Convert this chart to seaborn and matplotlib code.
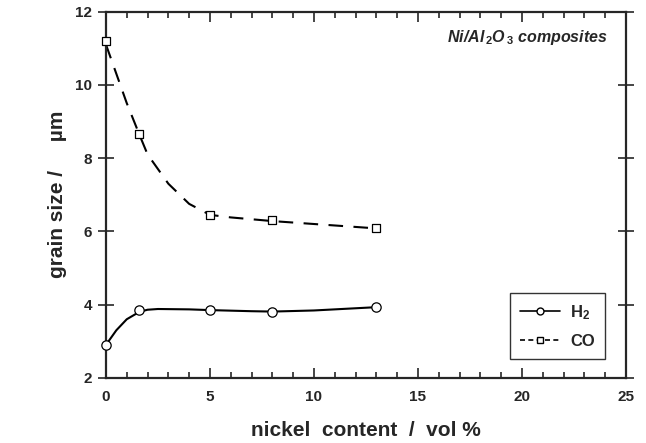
import numpy as np
import pandas as pd
import matplotlib
matplotlib.use("Agg")
import matplotlib.pyplot as plt
import seaborn as sns
from matplotlib.ticker import MultipleLocator
from matplotlib.lines import Line2D

# measured points
nickel = [0, 1.6, 5, 8, 13]
size_h2 = [2.9, 3.85, 3.85, 3.8, 3.93]
size_co = [11.2, 8.65, 6.45, 6.3, 6.1]

# fitted curves as drawn in the figure
curve_x_co = [0, 0.5, 1, 1.6, 2, 3, 4, 5, 6, 8, 10, 13]
curve_co = [11.1, 10.3, 9.5, 8.65, 8.1, 7.3, 6.75, 6.45, 6.38, 6.28, 6.2, 6.08]
curve_x_h2 = [0, 0.5, 1, 1.6, 2, 2.5, 4, 5, 7, 8, 10, 12, 13]
curve_h2 = [2.9, 3.3, 3.6, 3.8, 3.86, 3.88, 3.87, 3.85, 3.82, 3.81, 3.84, 3.9, 3.93]

sns.set_style("ticks")
plt.rcParams['font.family'] = ['Liberation Sans', 'DejaVu Sans']
plt.rcParams['mathtext.fontset'] = 'custom'
plt.rcParams['mathtext.it'] = 'Liberation Sans:italic:bold'
plt.rcParams['mathtext.rm'] = 'Liberation Sans:bold'

fig = plt.figure(figsize=(6.46, 4.43), dpi=100)
ax = fig.add_axes([0.164, 0.147, 0.805, 0.827])

pts = pd.DataFrame({"nickel": nickel, "H2": size_h2, "CO": size_co})
fit_co = pd.DataFrame({"x": curve_x_co, "y": curve_co})
fit_h2 = pd.DataFrame({"x": curve_x_h2, "y": curve_h2})

sns.lineplot(data=fit_co, x="x", y="y", ax=ax, color="black", lw=1.5,
             linestyle=(0, (7, 5)), sort=False)
sns.lineplot(data=fit_h2, x="x", y="y", ax=ax, color="black", lw=1.5, sort=False)
sns.scatterplot(data=pts, x="nickel", y="CO", ax=ax, marker="s", s=36,
                facecolor="white", edgecolor="black", linewidth=0.9, zorder=5, clip_on=False)
sns.scatterplot(data=pts, x="nickel", y="H2", ax=ax, marker="o", s=45,
                facecolor="white", edgecolor="black", linewidth=0.9, zorder=5, clip_on=False)

ax.set_xlim(0, 25)
ax.set_ylim(2, 12)
ax.xaxis.set_major_locator(MultipleLocator(5))
ax.xaxis.set_minor_locator(MultipleLocator(1))
ax.yaxis.set_major_locator(MultipleLocator(2))
ax.tick_params(axis="x", which="both", direction="in", top=True, bottom=True)
ax.tick_params(axis="x", which="major", length=7, width=1.2, labelsize=11, pad=9)
ax.tick_params(axis="x", which="minor", length=4, width=1.2)
ax.tick_params(axis="y", which="major", direction="inout", left=True, right=True,
               length=12, width=1.2, labelsize=11, pad=4)
for lab in ax.get_xticklabels() + ax.get_yticklabels():
    lab.set_fontweight("bold")
for sp in ax.spines.values():
    sp.set_linewidth(1.6)
    sp.set_visible(True)

ax.set_xlabel("nickel  content  /  vol %", fontsize=15, fontweight="bold", labelpad=12)
ax.set_ylabel("grain size /     \u00b5m", fontsize=15, fontweight="bold", labelpad=6)

ax.text(0.965, 0.955, r"Ni/Al$_{\,2}$O$_{\,3}$ composites", transform=ax.transAxes,
        ha="right", va="top", fontsize=11.5, fontweight="bold", style="italic")

handles = [
    Line2D([], [], color="black", lw=1.2, marker="o", markersize=5,
           markerfacecolor="white", markeredgecolor="black"),
    Line2D([], [], color="black", lw=1.2, linestyle=(0, (3, 2)), marker="s", markersize=5,
           markerfacecolor="white", markeredgecolor="black"),
]
leg = ax.legend(handles, ["H$_2$", "CO"], loc="lower right", bbox_to_anchor=(0.975, 0.03),
                frameon=True, fancybox=False, edgecolor="black",
                handlelength=2.4, handletextpad=0.6, borderpad=0.6, labelspacing=0.7,
                prop={"weight": "bold", "size": 12})
leg.get_frame().set_linewidth(1.0)

fig.savefig("out.png", dpi=100)
